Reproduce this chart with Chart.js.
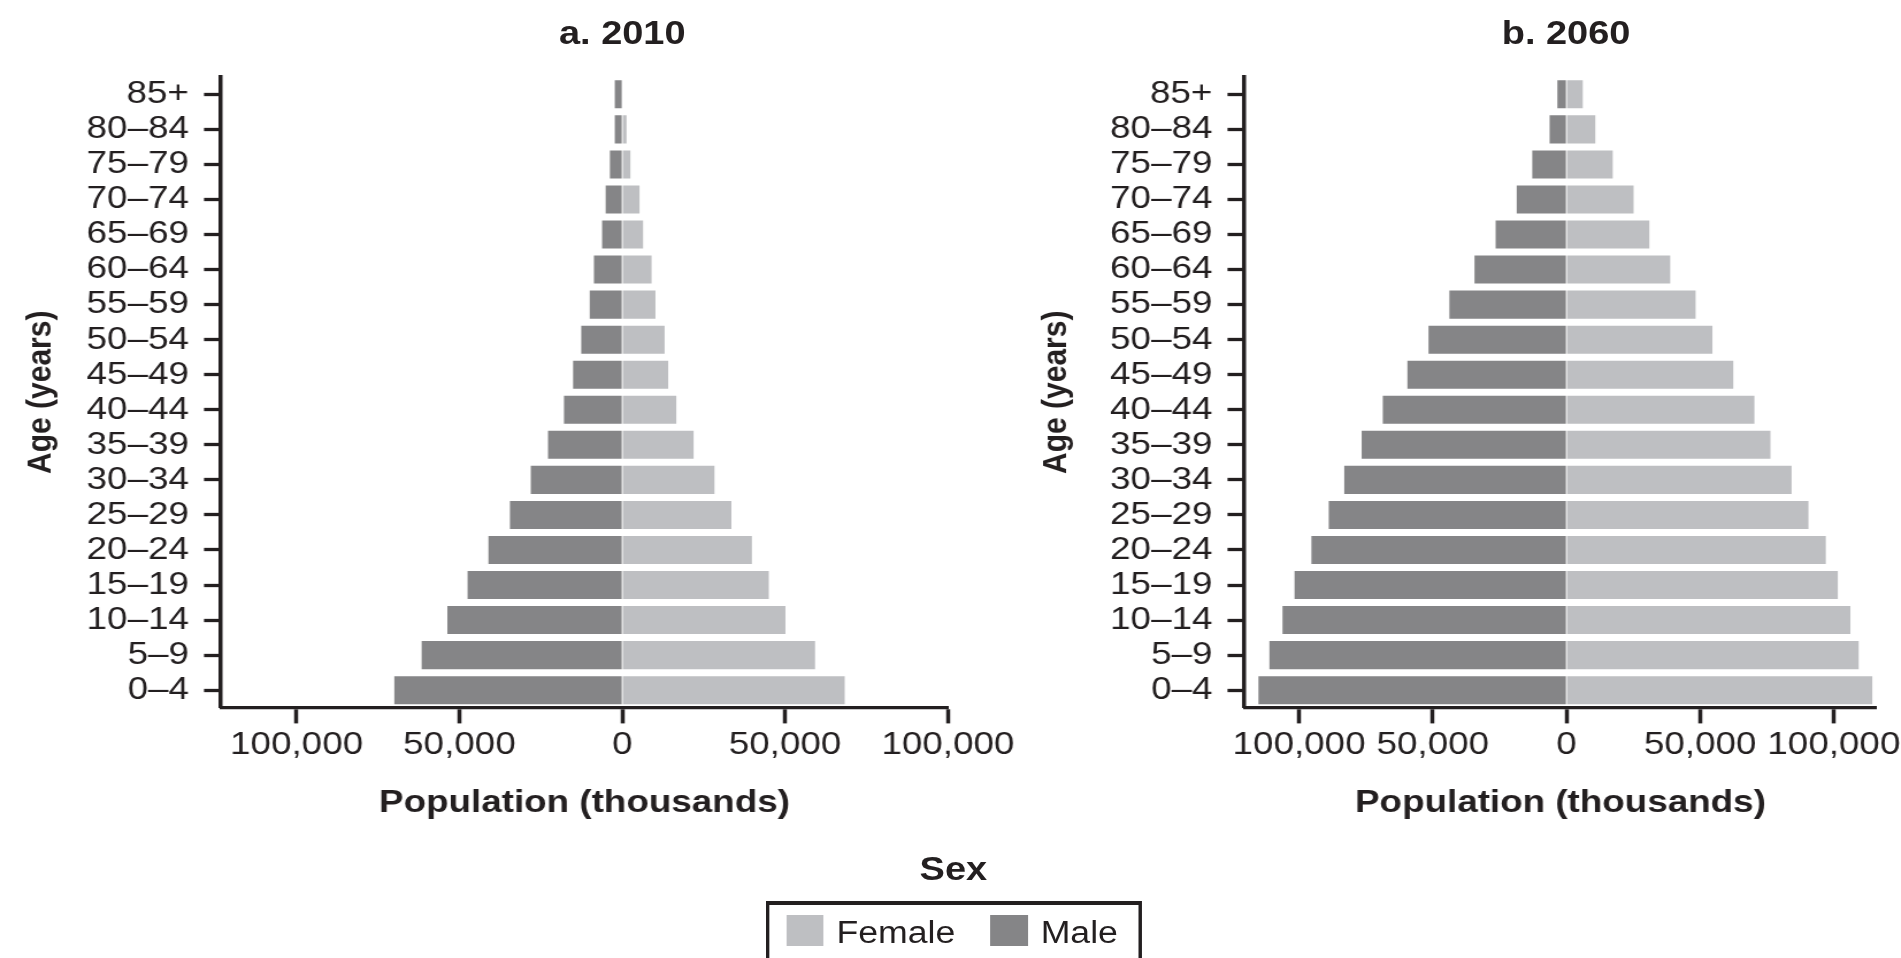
<!DOCTYPE html>
<html>
<head>
<meta charset="utf-8">
<script src="https://cdn.jsdelivr.net/npm/chart.js@4.4.0/dist/chart.umd.min.js"></script>
<style>
  html, body { margin: 0; padding: 0; background: #fff; overflow: hidden; }
  body { width: 1901px; height: 958px; position: relative; }
  /* the source figure is stretched sideways, so the whole stage is too */
  #stage { position: absolute; left: 0; top: 0; width: 1653px; height: 958px;
           transform: scaleX(1.15); transform-origin: 0 0;
           font-family: 'Liberation Sans', Arial, sans-serif; color: #231f20; }
  #stage canvas { position: absolute; top: 0; }
  .panel-title { position: absolute; top: 16px; width: 600px; text-align: center;
                 font-weight: bold; font-size: 33px; line-height: 33px; }
  #sexTitle { position: absolute; left: 629px; width: 400px; top: 852px; text-align: center;
              font-weight: bold; font-size: 33px; line-height: 33px; }
  #legend { position: absolute; left: 666px; top: 901px; width: 327px; height: 80px;
            box-sizing: border-box; border: solid #231f20; border-width: 4px 3.5px; }
  #legendItems { position: absolute; left: 14.7px; top: 10px; display: flex; align-items: flex-start; }
  .swatch { width: 32.5px; height: 31px; margin-right: 11.2px; }
  .lbl { font-size: 31px; line-height: 31px; margin-top: 1.8px; margin-right: 30.5px; }
</style>
</head>
<body>
<div id="stage">
  <canvas id="c2010" width="900" height="822" style="left:0px"></canvas>
  <canvas id="c2060" width="800" height="822" style="left:889.7px"></canvas>
  <div id="t2010" class="panel-title"></div>
  <div id="t2060" class="panel-title"></div>
  <div id="sexTitle">Sex</div>
  <div id="legend"><div id="legendItems"></div></div>
</div>
<script>
// age groups, top of the pyramid first
const ageGroups = ['85+', '80–84', '75–79', '70–74', '65–69', '60–64', '55–59', '50–54', '45–49',
  '40–44', '35–39', '30–34', '25–29', '20–24', '15–19', '10–14', '5–9', '0–4'];

// population in thousands
const male2010 = [2300, 2300, 3800, 5100, 6200, 8700, 10000, 12600, 15100,
  17900, 22800, 28100, 34500, 41100, 47500, 53700, 61600, 70000];
const female2010 = [0, 1300, 2500, 5300, 6400, 9000, 10200, 13000, 14100,
  16600, 21900, 28300, 33500, 39800, 45000, 50100, 59200, 68300];
const male2060 = [3400, 6300, 12800, 18600, 26500, 34400, 43800, 51600, 59500,
  68700, 76600, 83100, 88900, 95400, 101700, 106200, 111100, 115200];
const female2060 = [6100, 10800, 17300, 25100, 31000, 38800, 48300, 54600, 62400,
  70300, 76300, 84200, 90500, 97000, 101500, 106200, 109300, 114400];

const popTicks = [-100000, -50000, 0, 50000, 100000];
const panelTitles = ['a. 2010', 'b. 2060'];
const seriesNames = ['Female', 'Male'];
const seriesColors = ['#bebfc2', '#858587'];

const INK = '#231f20';
const FONT = "'Liberation Sans', Arial, sans-serif";

function makeChart(id, male, female, cfg) {
  const canvas = document.getElementById(id);
  return new Chart(canvas, {
    type: 'bar',
    data: {
      labels: ageGroups,
      datasets: [
        { label: seriesNames[0], data: female, backgroundColor: seriesColors[0] },
        { label: seriesNames[1], data: male.map(v => -v), backgroundColor: seriesColors[1] }
      ]
    },
    options: {
      indexAxis: 'y',
      responsive: false,
      animation: false,
      events: [],
      barPercentage: 0.8,
      categoryPercentage: 1.0,
      layout: { padding: { top: 76.8, right: cfg.padRight, left: 0, bottom: 0 } },
      plugins: { legend: { display: false }, tooltip: { enabled: false } },
      scales: {
        x: {
          stacked: true,
          min: cfg.min,
          max: cfg.max,
          bounds: 'data',
          afterBuildTicks: s => { s.ticks = popTicks.map(v => ({ value: v })); },
          grid: { drawOnChartArea: false, tickLength: 15.7, tickWidth: 3.5, tickColor: INK },
          border: { color: INK, width: 3.3 },
          ticks: {
            padding: 2.6, color: INK, font: { family: FONT, size: 32 },
            callback: v => Math.abs(v).toLocaleString('en-US')
          },
          title: {
            display: true, text: 'Population (thousands)', color: INK,
            font: { family: FONT, size: 32, weight: 'bold' }, padding: { top: 16.6, bottom: 0 }
          }
        },
        y: {
          stacked: true,
          afterFit: s => { s.width = 192.2; },
          grid: { offset: false, drawOnChartArea: false, tickLength: 14.8, tickWidth: 3.3, tickColor: INK },
          border: { color: INK, width: 3.5 },
          ticks: {
            autoSkip: false, padding: 13.1, color: INK,
            font: { family: FONT, size: 32 }
          },
          title: {
            display: true, text: 'Age (years)', color: INK,
            font: { family: FONT, size: 30, weight: 'bold' }, padding: { top: cfg.yTitlePad, bottom: 0 }
          }
        }
      }
    }
  });
}

const charts = [
  makeChart('c2010', male2010, female2010, { min: -123200, max: 100000, padRight: 75.7, yTitlePad: 17.3 }),
  makeChart('c2060', male2060, female2060, { min: -120400, max: 115900, padRight: 58.4, yTitlePad: 10.8 })
];

// panel titles sit over the zero line of each pyramid
['t2010', 't2060'].forEach((id, i) => {
  const el = document.getElementById(id);
  const ch = charts[i];
  const left = parseFloat(ch.canvas.style.left) || 0;
  el.textContent = panelTitles[i];
  el.style.left = (left + ch.scales.x.getPixelForValue(0) - 300) + 'px';
});

// legend: Female then Male
const items = document.getElementById('legendItems');
seriesNames.forEach((name, i) => {
  const sw = document.createElement('div');
  sw.className = 'swatch';
  sw.style.background = seriesColors[i];
  const tx = document.createElement('div');
  tx.className = 'lbl';
  tx.textContent = name;
  items.appendChild(sw);
  items.appendChild(tx);
});
</script>
</body>
</html>
